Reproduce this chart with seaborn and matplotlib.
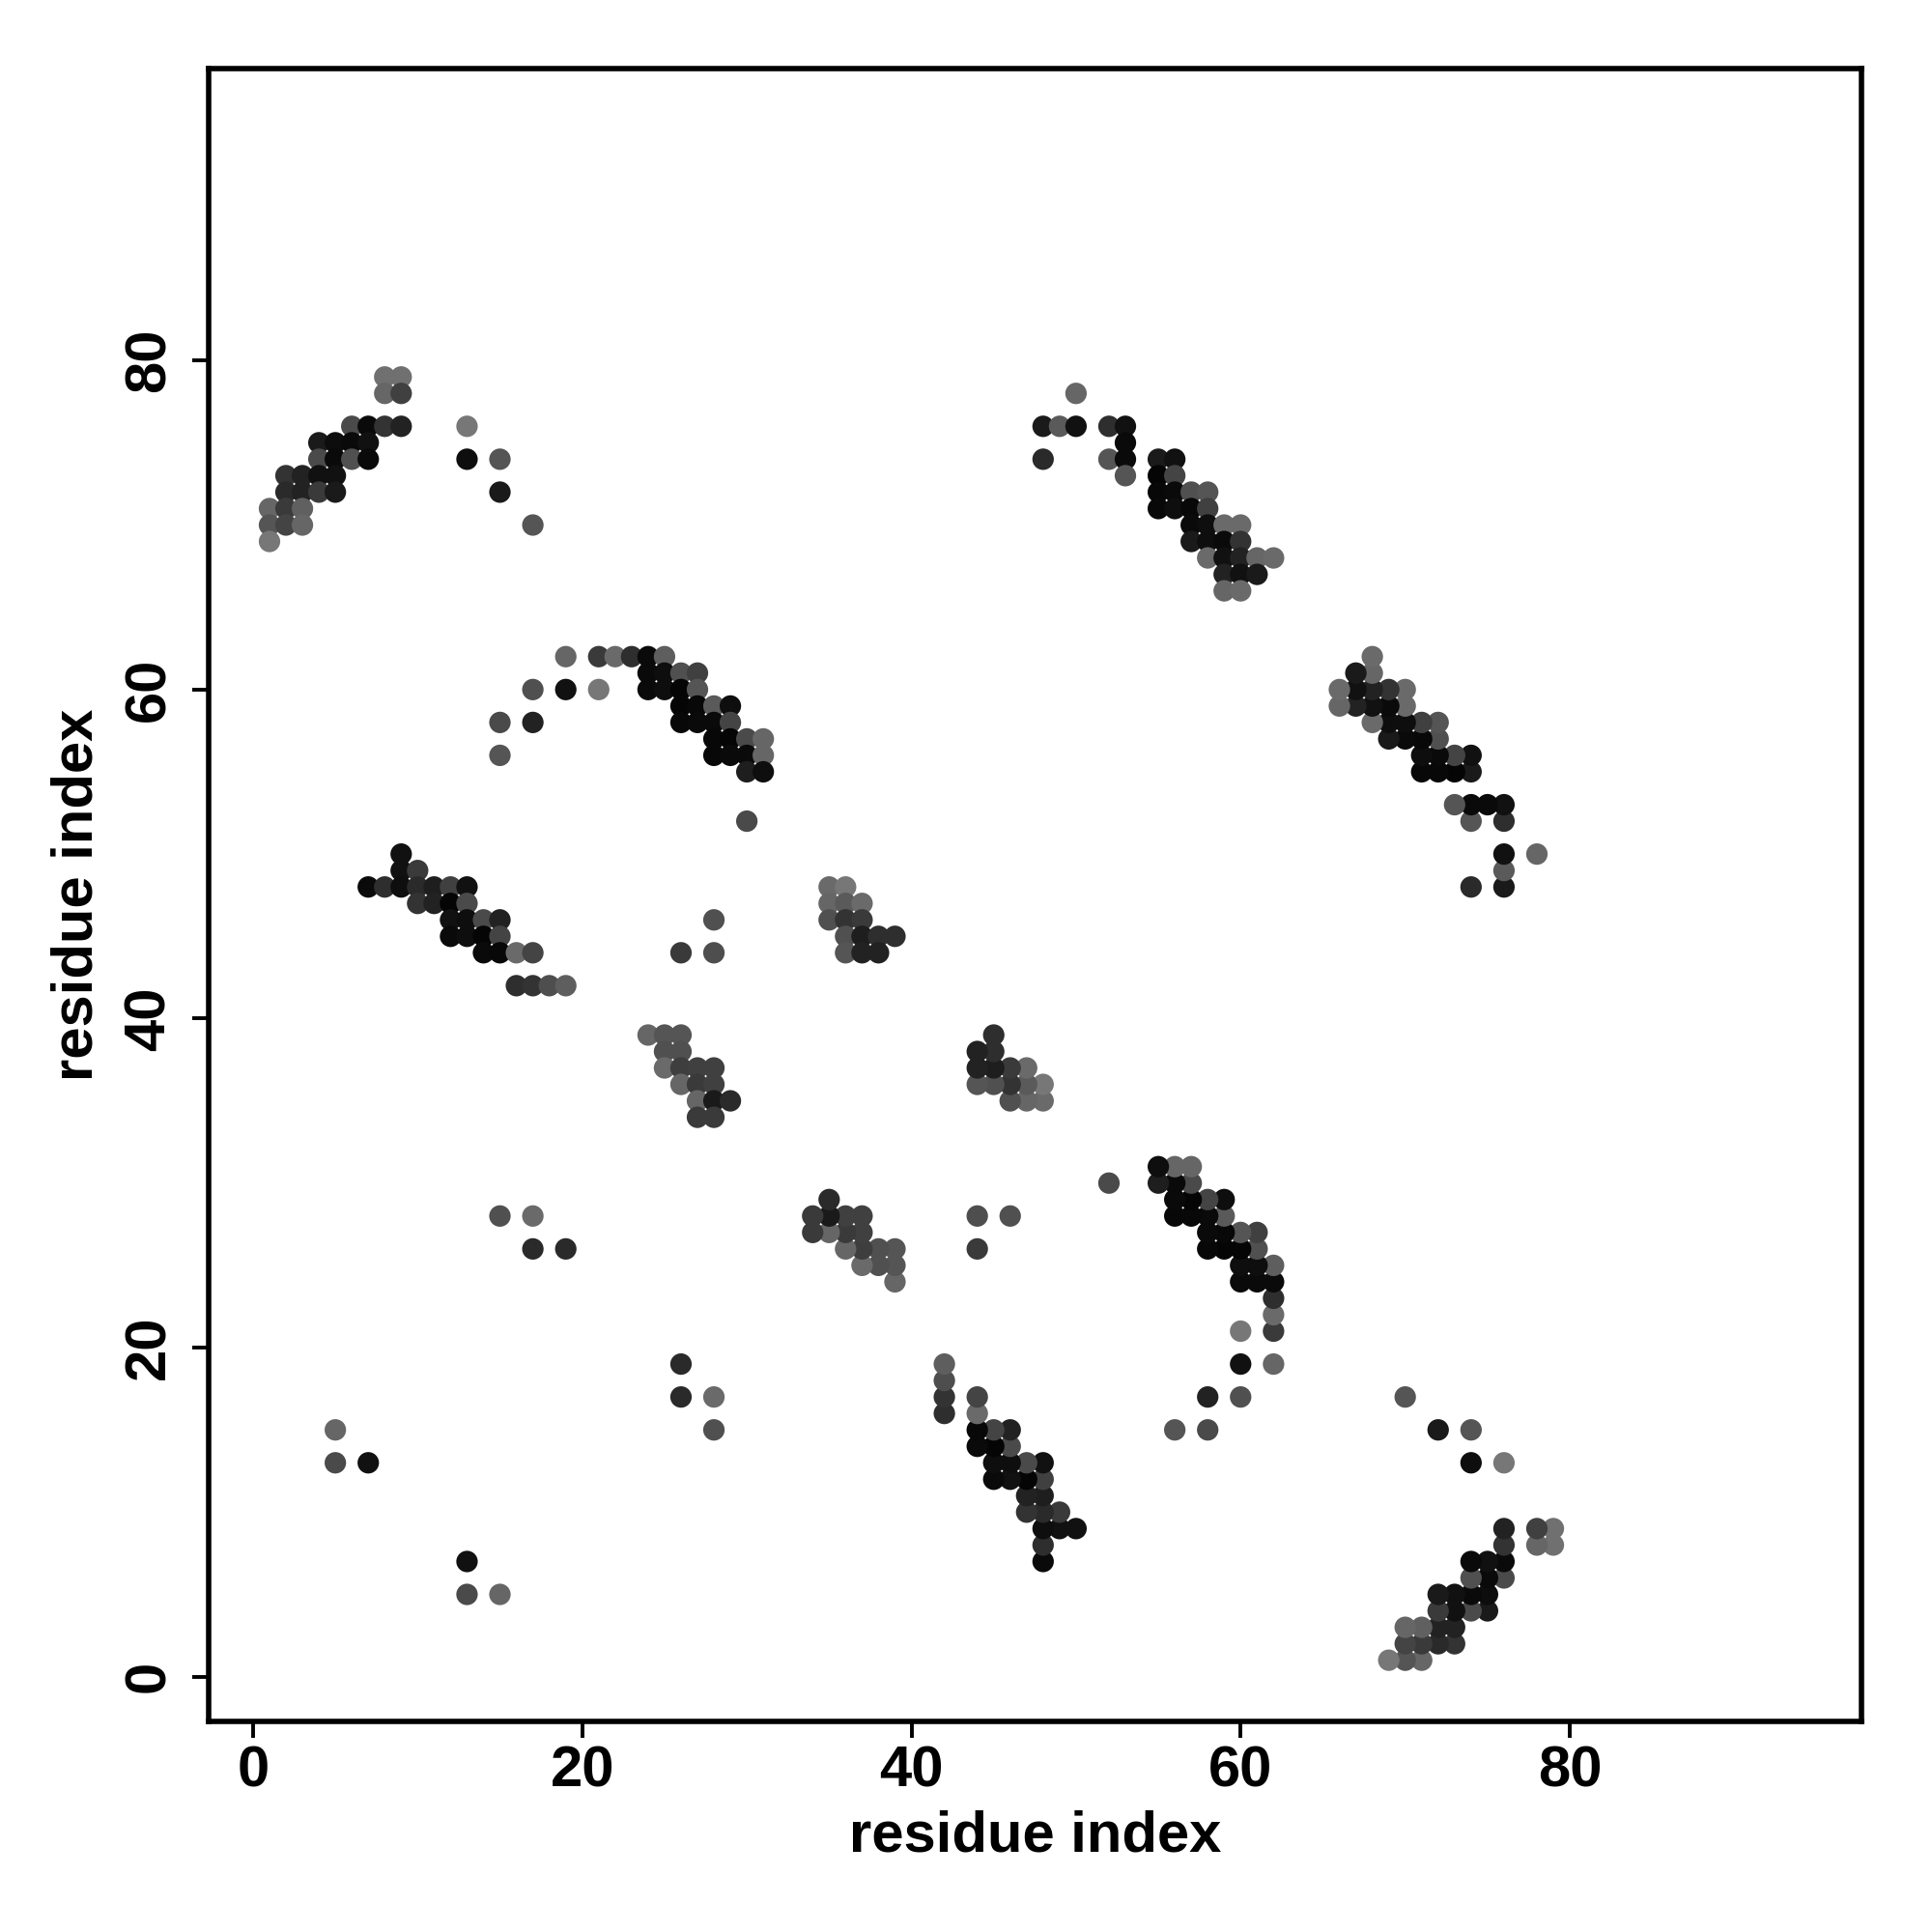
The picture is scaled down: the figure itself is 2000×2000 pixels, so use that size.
import numpy as np
import pandas as pd
import matplotlib
matplotlib.use("Agg")
import matplotlib.pyplot as plt
import seaborn as sns

# Upper-triangle contacts (i < j); the map is symmetric, mirrored below.
# Each entry: residue i, residue j, grey level (0 = black, 255 = white)
res_i = [8, 9, 8, 9, 6, 7, 8, 9, 13, 4, 5, 6, 7, 4, 5, 6, 7, 13, 15,
         2, 3, 4, 5, 2, 3, 4, 5, 15, 1, 2, 3, 1, 2, 3, 17, 1,
         19, 21, 22, 23, 24, 25, 24, 25, 26, 27,
         17, 19, 21, 24, 25, 26, 27, 26, 27, 28, 29,
         15, 17, 26, 27, 28, 29, 28, 29, 30, 31,
         15, 28, 29, 30, 31, 30, 31, 30,
         9, 9, 10, 7, 8, 9, 10, 11, 12, 13, 10, 11, 12, 13,
         12, 13, 14, 15, 12, 13, 14, 15, 14, 15, 16, 17, 16, 17, 18, 19,
         28, 26, 28, 35, 36, 35, 36, 37, 35, 36, 37, 36, 37, 38, 39, 36, 37, 38,
         24, 25, 26, 25, 26, 25, 26, 27, 28, 26, 27, 28, 27, 28, 29, 27, 28,
         50, 48, 49, 50, 52, 53, 53, 48, 52, 53, 55, 56, 53, 55, 56,
         55, 56, 57, 58, 55, 56, 57, 58, 57, 58, 59, 60, 57, 58, 59, 60,
         58, 59, 60, 61, 62, 59, 60, 61, 59, 60,
         5, 5, 7, 15, 17, 17, 19]
res_j = [79, 79, 78, 78, 76, 76, 76, 76, 76, 75, 75, 75, 75, 74, 74, 74, 74, 74, 74,
         73, 73, 73, 73, 72, 72, 72, 72, 72, 71, 71, 71, 70, 70, 70, 70, 69,
         62, 62, 62, 62, 62, 62, 61, 61, 61, 61,
         60, 60, 60, 60, 60, 60, 60, 59, 59, 59, 59,
         58, 58, 58, 58, 58, 58, 57, 57, 57, 57,
         56, 56, 56, 56, 56, 55, 55, 52,
         50, 49, 49, 48, 48, 48, 48, 48, 48, 48, 47, 47, 47, 47,
         46, 46, 46, 46, 45, 45, 45, 45, 44, 44, 44, 44, 42, 42, 42, 42,
         46, 44, 44, 48, 48, 47, 47, 47, 46, 46, 46, 45, 45, 45, 45, 44, 44, 44,
         39, 39, 39, 38, 38, 37, 37, 37, 37, 36, 36, 36, 35, 35, 35, 34, 34,
         78, 76, 76, 76, 76, 76, 75, 74, 74, 74, 74, 74, 73, 73, 73,
         72, 72, 72, 72, 71, 71, 71, 71, 70, 70, 70, 70, 69, 69, 69, 69,
         68, 68, 68, 68, 68, 67, 67, 67, 66, 66,
         15, 13, 13, 28, 28, 26, 26]
grey = [0x70, 0x70, 0x66, 0x40, 0x4a, 0x0a, 0x33, 0x22, 0x77, 0x1a, 0x0d, 0x0a, 0x11,
        0x4a, 0x0a, 0x50, 0x0a, 0x0e, 0x55,
        0x33, 0x22, 0x11, 0x11, 0x2a, 0x22, 0x3a, 0x1a, 0x1a, 0x66, 0x3a, 0x60,
        0x55, 0x44, 0x66, 0x55, 0x77,
        0x66, 0x3a, 0x6a, 0x2e, 0x0a, 0x5e, 0x0a, 0x0e, 0x50, 0x40,
        0x50, 0x11, 0x77, 0x0a, 0x0e, 0x05, 0x55, 0x05, 0x08, 0x5a, 0x0e,
        0x4a, 0x22, 0x08, 0x0a, 0x0a, 0x44, 0x08, 0x05, 0x4a, 0x66,
        0x55, 0x08, 0x0a, 0x0a, 0x66, 0x1e, 0x0e, 0x4a,
        0x11, 0x11, 0x3a, 0x0a, 0x2e, 0x0e, 0x2a, 0x1e, 0x40, 0x11, 0x33, 0x22, 0x05, 0x4a,
        0x11, 0x0e, 0x4a, 0x22, 0x0a, 0x0e, 0x05, 0x44, 0x0a, 0x08, 0x6a, 0x44,
        0x2e, 0x33, 0x4e, 0x5e,
        0x50, 0x3a, 0x4e, 0x6a, 0x77, 0x66, 0x5a, 0x6a, 0x50, 0x33, 0x3a,
        0x50, 0x1e, 0x2e, 0x2e, 0x55, 0x22, 0x22,
        0x66, 0x55, 0x55, 0x50, 0x50, 0x6a, 0x3e, 0x40, 0x40, 0x66, 0x3a, 0x40,
        0x66, 0x1a, 0x2a, 0x3a, 0x3a,
        0x66, 0x1a, 0x5a, 0x11, 0x2e, 0x11, 0x0a, 0x2a, 0x55, 0x0a, 0x1a, 0x11,
        0x55, 0x05, 0x44,
        0x08, 0x0a, 0x50, 0x55, 0x08, 0x0e, 0x08, 0x40, 0x0a, 0x0e, 0x6a, 0x6a,
        0x1a, 0x0e, 0x0a, 0x33,
        0x6a, 0x11, 0x22, 0x66, 0x6a, 0x22, 0x11, 0x1a, 0x66, 0x6a,
        0x66, 0x4a, 0x11, 0x50, 0x6a, 0x2a, 0x2a]

x_ticks = [0, 20, 40, 60, 80]
y_ticks = [0, 20, 40, 60, 80]
x_label = "residue index"
y_label = "residue index"

upper = pd.DataFrame({"i": res_i, "j": res_j, "grey": grey})
lower = upper.rename(columns={"i": "j", "j": "i"})
df = pd.concat([upper, lower], ignore_index=True)

sns.set_theme(style="white")
plt.rcParams["font.family"] = ["Liberation Sans", "DejaVu Sans"]
plt.rcParams["font.weight"] = "bold"
plt.rcParams["text.color"] = "black"
plt.rcParams["axes.labelcolor"] = "black"
plt.rcParams["xtick.color"] = "black"
plt.rcParams["ytick.color"] = "black"

fig = plt.figure(figsize=(10, 10), dpi=200)
ax = fig.add_axes([0.1078, 0.109, 0.9635 - 0.1078, 0.9643 - 0.109])

sns.scatterplot(data=df, x="i", y="j", hue="grey", palette="gray",
                hue_norm=(0, 255), s=64, linewidth=0, legend=False, ax=ax)

ax.set_xlim(-2.72, 97.72)
ax.set_ylim(-2.72, 97.72)
ax.set_xticks(x_ticks)
ax.set_yticks(y_ticks)
ax.set_xticklabels([str(t) for t in x_ticks], fontsize=21.5, fontweight="bold")
ax.set_yticklabels([str(t) for t in y_ticks], fontsize=21.5, fontweight="bold",
                   rotation=90, va="center")
ax.tick_params(axis="both", direction="out", length=6, width=1.4, color="black",
               labelcolor="black", bottom=True, left=True)
ax.tick_params(axis="x", pad=3)
ax.tick_params(axis="y", pad=6)
for sp in ax.spines.values():
    sp.set_visible(True)
    sp.set_color("black")
    sp.set_linewidth(2.0)
ax.set_xlabel(x_label, fontsize=21.5, fontweight="bold", labelpad=4, color="black")
ax.set_ylabel(y_label, fontsize=21.5, fontweight="bold", labelpad=7, color="black")
ax.grid(False)

fig.savefig("out.png", dpi=200, facecolor="white")
